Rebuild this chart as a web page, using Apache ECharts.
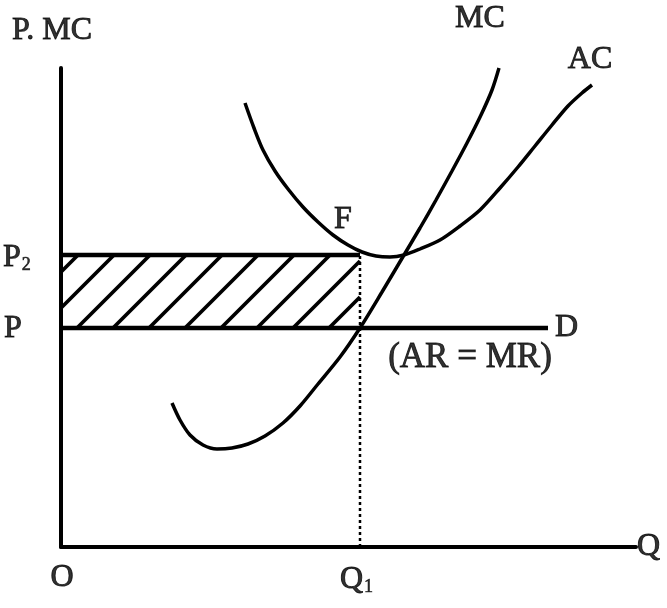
<!DOCTYPE html>
<html>
<head>
<meta charset="utf-8">
<script src="https://cdn.jsdelivr.net/npm/echarts@6/dist/echarts.min.js"></script>
<style>
html,body{margin:0;padding:0;background:#fff;}
#chart{width:667px;height:608px;}
</style>
</head>
<body>
<div id="chart"></div>
<script>
// ---- data (quantity units on x, price/cost units on y) ----
const xMax = 575;
const yMax = 479;
const P = 219;      // market price
const P2 = 292;     // price level P2 (average cost at Q1)
const Q1 = 299;     // output Q1
const dEnd = 487;   // end of demand line D

const mcX = [111,119,129,142,156,171,187,204,222,239,257,279,299,321,343,359,375,391,406,420,431,438];
const mcY = [144,127,112,102, 98, 99,103,111,124,141,163,190,219,255,292,319,347,376,404,432,457,479];

const acX = [184,193,202,214,227,242,257,272,287,301,315,329,343,359,379,399,419,439,457,474,491,507,521,531];
const acY = [444,419,397,376,358,340,325,312,302,295,291,290,292,298,307,321,337,359,380,401,422,441,454,462];

const labelTexts = {
  axisY: 'P. MC', axisX: 'Q', origin: 'O', q1: 'Q{s|1}', p2: 'P{s|2}', p: 'P',
  d: 'D', armr: '(AR = MR)', f: 'F', mc: 'MC', ac: 'AC'
};

// ---- build chart ----
const zip = (xs, ys) => xs.map((x, i) => [x, ys[i]]);
const FONT = '"Liberation Serif", "Times New Roman", serif';
const FS = 32;
const txt = { color: '#000', fontFamily: FONT, fontSize: FS, fontWeight: 'normal', textBorderColor: '#000', textBorderWidth: 0.9 };
const rich = {
  s: { color: '#000', fontFamily: FONT, fontSize: 18, textBorderColor: '#000', textBorderWidth: 0.6, verticalAlign: 'bottom', padding: [0, 0, 0, 1] }
};

function lbl(value, text, offset, align, extra) {
  return {
    value: value,
    label: Object.assign({
      show: true, position: 'inside', formatter: text,
      offset: offset, align: align || 'center', verticalAlign: 'middle', rich: rich
    }, txt, extra || {})
  };
}

const chart = echarts.init(document.getElementById('chart'), null, { renderer: 'canvas' });

const hatchSeries = {
  type: 'custom',
  silent: true,
  clip: false,
  z: 1,
  data: [[0, P, Q1, P2]],
  renderItem: function (params, api) {
    const a = api.coord([api.value(0), api.value(1)]);
    const b = api.coord([api.value(2), api.value(3)]);
    const left = a[0], right = b[0], bottom = a[1], top = b[1];
    const h = bottom - top;
    const spacing = 36, phase = 16;
    const children = [];
    for (let xb = left + phase - Math.ceil((h + phase) / spacing) * spacing; xb < right; xb += spacing) {
      const xs = Math.max(xb, left);
      const xe = Math.min(xb + h, right);
      if (xe <= xs) continue;
      children.push({
        type: 'line',
        shape: { x1: xs, y1: bottom - (xs - xb), x2: xe, y2: bottom - (xe - xb) },
        style: { stroke: '#000', lineWidth: 3.8 }
      });
    }
    return { type: 'group', children: children };
  }
};

const option = {
  backgroundColor: '#fff',
  animation: false,
  grid: { left: 61, right: 31, top: 68, bottom: 61, containLabel: false },
  xAxis: {
    type: 'value', min: 0, max: xMax,
    axisLine: { show: true, onZero: false, lineStyle: { color: '#000', width: 4 } },
    axisTick: { show: false }, axisLabel: { show: false }, splitLine: { show: false }
  },
  yAxis: {
    type: 'value', min: 0, max: yMax,
    axisLine: { show: true, onZero: false, lineStyle: { color: '#000', width: 4 } },
    axisTick: { show: false }, axisLabel: { show: false }, splitLine: { show: false }
  },
  series: [
    hatchSeries,
    {
      name: 'P2 line', type: 'line', data: [[0, P2], [Q1, P2]],
      symbol: 'none', lineStyle: { color: '#000', width: 4.5 }, silent: true, z: 2
    },
    {
      name: 'D', type: 'line', data: [[0, P], [dEnd, P]],
      symbol: 'none', lineStyle: { color: '#000', width: 4.5 }, silent: true, z: 2
    },
    {
      name: 'Q1 guide', type: 'line', data: [[Q1, 0], [Q1, P2]],
      symbol: 'none', lineStyle: { color: '#000', width: 2.5, type: [3, 3] }, silent: true, z: 2
    },
    {
      name: 'MC', type: 'line', data: zip(mcX, mcY), smooth: 0.3,
      symbol: 'none', lineStyle: { color: '#000', width: 3.5 }, silent: true, z: 3
    },
    {
      name: 'AC', type: 'line', data: zip(acX, acY), smooth: 0.3,
      symbol: 'none', lineStyle: { color: '#000', width: 3.5 }, silent: true, z: 3
    },
    {
      name: 'labels', type: 'scatter', symbolSize: 0, clip: false, silent: true, z: 5,
      data: [
        lbl([0, yMax], labelTexts.axisY, [-9, -37]),
        lbl([xMax, 0], labelTexts.axisX, [1, 0], 'left'),
        lbl([0, 0], labelTexts.origin, [1, 31]),
        lbl([Q1, 0], labelTexts.q1, [-20, 33], 'left'),
        lbl([0, P2], labelTexts.p2, [-58, 3], 'left'),
        lbl([0, P], labelTexts.p, [-57, 1], 'left'),
        lbl([dEnd, P], labelTexts.d, [7, 0], 'left'),
        lbl([dEnd, P], labelTexts.armr, [-78, 30], 'center', { fontSize: 35 }),
        lbl([Q1, P2], labelTexts.f, [-17, -35]),
        lbl([mcX[mcX.length - 1], mcY[mcY.length - 1]], labelTexts.mc, [-19, -49]),
        lbl([acX[acX.length - 1], acY[acY.length - 1]], labelTexts.ac, [-2, -25])
      ]
    }
  ]
};
chart.setOption(option);
</script>
</body>
</html>
